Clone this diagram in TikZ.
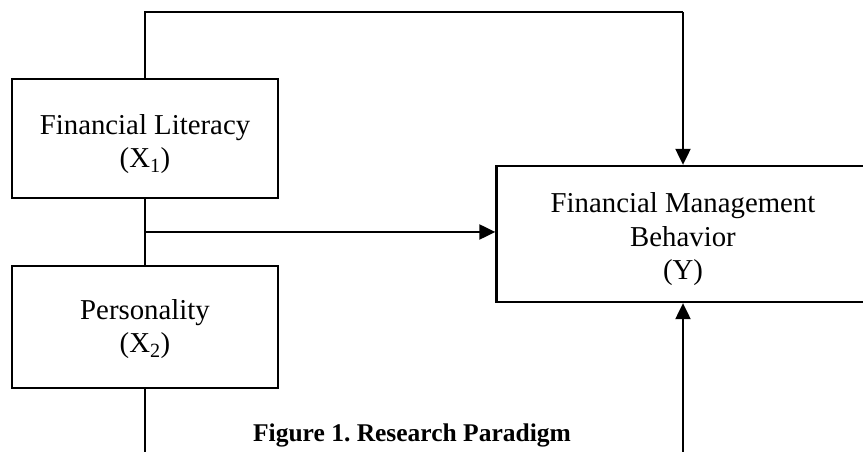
\documentclass[tikz,border=0pt]{standalone}
\usepackage{fontspec}
\setmainfont{Liberation Serif}
\usetikzlibrary{arrows.meta}
\frenchspacing
\begin{document}
\begin{tikzpicture}[x=1pt,y=1pt,
  box/.style={draw=black, line width=2.3pt, minimum width=266pt, inner sep=0pt},
  lbl/.style={align=center, font=\fontsize{28.8}{33.5}\selectfont, inner sep=0pt, anchor=base},
  conn/.style={line width=2.1pt},
  arr/.style={line width=2.1pt, -{Triangle[length=16pt,width=15pt]}}]
\useasboundingbox (0,0) rectangle (863,452);
\fill[white] (0,0) rectangle (863,452);
% boxes
\node[box, minimum height=119pt] (lit) at (145,313.5) {};
\node[box, minimum height=122pt] (pers) at (145,125) {};
\node[box, minimum width=373pt, minimum height=136pt] (beh) at (683,218) {};
% labels (base anchor = baseline of last line)
\node[lbl] (litT) at (145,284) {Financial Literacy\\(X\textsubscript{1})};
\node[lbl] (persT) at (145,99) {Personality\\(X\textsubscript{2})};
\node[lbl] (behT) at (683,172) {Financial Management\\Behavior\\(Y)};
\node[font=\bfseries\fontsize{25.5}{30}\selectfont, inner sep=0pt, anchor=base] (cap) at (412,10) {Figure 1. Research Paradigm};
% coordinates
\coordinate (topL) at (145,440);
\coordinate (topR) at (683,440);
\coordinate (mid) at (145,220);
\coordinate (botL) at (145,-2);
\coordinate (botR) at (683,-2);
% connectors
\draw[conn] (lit.north) -- (topL) -- (topR);
\draw[arr] (topR) -- (beh.north);
\draw[conn] (lit.south) -- (pers.north);
\draw[arr] (mid) -- (mid -| beh.west);
\draw[conn] (pers.south) -- (botL);
\draw[arr] (botR) -- (beh.south);
\end{tikzpicture}
\end{document}
